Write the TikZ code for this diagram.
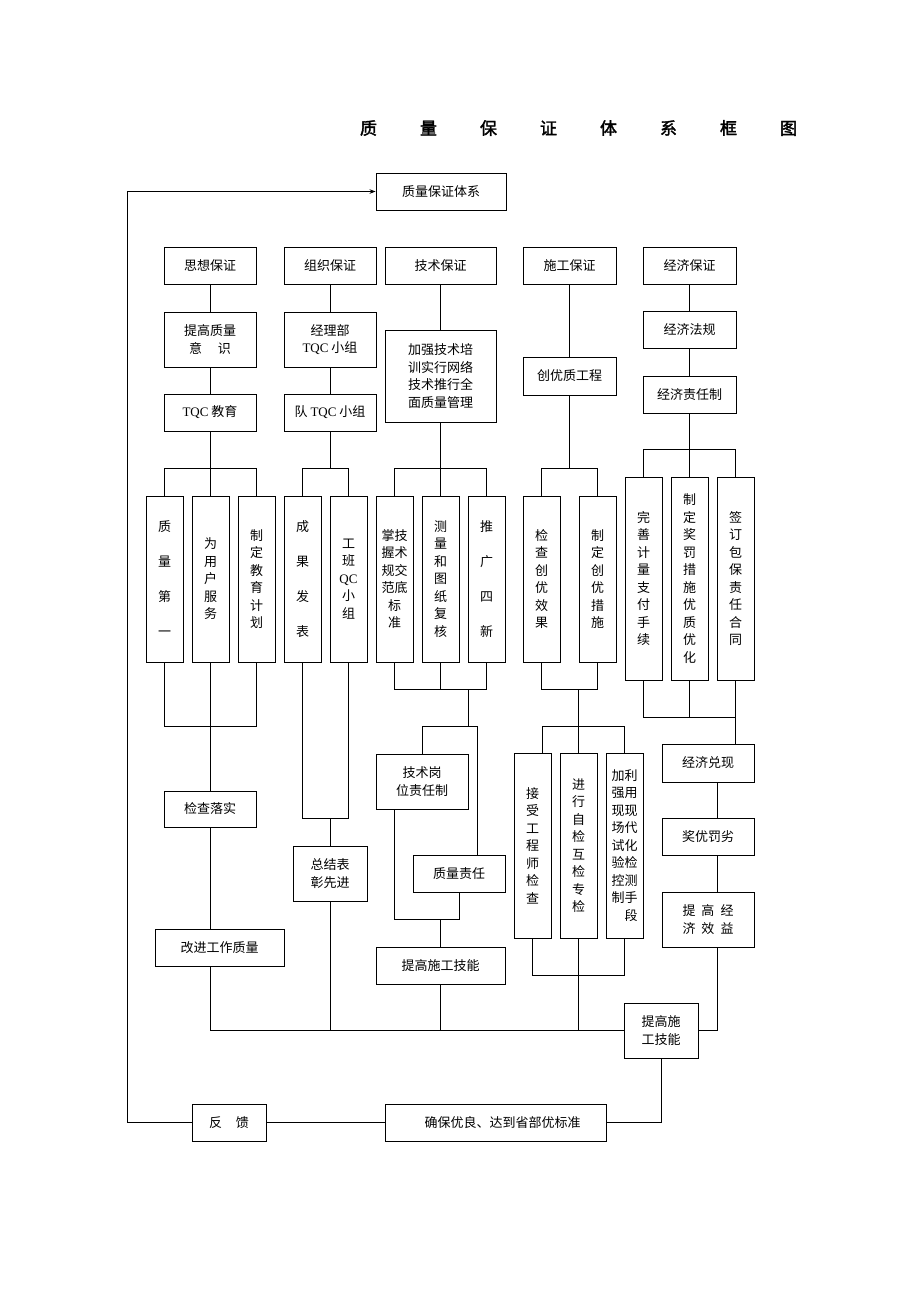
\documentclass[tikz,border=0pt]{standalone}
\usepackage{fontspec}
\setmainfont{Noto Sans CJK SC}
\newfontfamily\lat{Liberation Serif}
\newfontfamily\titlefont{Noto Sans CJK SC}[FakeBold=2]
\usetikzlibrary{arrows.meta}
\tikzset{
  bx/.style={draw, line width=0.9pt, inner sep=0pt, align=center, font=\fontsize{13}{17.5}\selectfont},
  bxw/.style={bx, font=\fontsize{13}{35}\selectfont},
  ln/.style={line width=0.8pt},
  vb/.style={bx, minimum width=37, minimum height=166},
  vt/.style={bx, minimum width=37, minimum height=203},
  vs/.style={bx, minimum width=37, minimum height=185}
}
\begin{document}
\begin{tikzpicture}[x=1pt,y=-1pt]
\useasboundingbox (0,0) rectangle (920,1302);
% title
\node (title) at (578.5,128) {\titlefont\fontsize{17}{17}\selectfont 质\hspace{43pt}量\hspace{43pt}保\hspace{43pt}证\hspace{43pt}体\hspace{43pt}系\hspace{43pt}框\hspace{43pt}图};
% top level
\node[bx,minimum width=130,minimum height=37] (top) at (441,191.5) {质量保证体系};
\node[bx,minimum width=92,minimum height=37] (sx) at (210,265.5) {思想保证};
\node[bx,minimum width=92,minimum height=37] (zz) at (330,265.5) {组织保证};
\node[bx,minimum width=111,minimum height=37] (js) at (440.5,265.5) {技术保证};
\node[bx,minimum width=93,minimum height=37] (sg) at (569.5,265.5) {施工保证};
\node[bx,minimum width=93,minimum height=37] (jj) at (689.5,265.5) {经济保证};
% second level
\node[bx,minimum width=92,minimum height=55] (tg) at (210,339.5) {提高质量\\意\hspace{16pt}识};
\node[bx,minimum width=92,minimum height=55] (jl) at (330,339.5) {经理部\\{\lat TQC} 小组};
\node[bx,minimum width=111,minimum height=92] (jq) at (440.5,376) {加强技术培\\训实行网络\\技术推行全\\面质量管理};
\node[bx,minimum width=93,minimum height=38] (cy) at (569.5,376) {创优质工程};
\node[bx,minimum width=93,minimum height=37] (jf) at (689.5,330) {经济法规};
\node[bx,minimum width=93,minimum height=37] (zr) at (689.5,394.5) {经济责任制};
\node[bx,minimum width=92,minimum height=37] (tqc) at (210,412.5) {{\lat TQC} 教育};
\node[bx,minimum width=92,minimum height=37] (dq) at (330,412.5) {队 {\lat TQC} 小组};
% vertical boxes
\node[vb,bxw] (v1) at (164.5,579) {质\\量\\第\\一};
\node[vb] (v2) at (210.5,579) {为\\用\\户\\服\\务};
\node[vb] (v3) at (256.5,579) {制\\定\\教\\育\\计\\划};
\node[vb,bxw] (v4) at (302.5,579) {成\\果\\发\\表};
\node[vb] (v5) at (348.5,579) {工\\班\\{\lat QC}\\小\\组};
\node[vb] (v6) at (394.5,579) {掌技\\握术\\规交\\范底\\标\\准};
\node[vb] (v7) at (440.5,579) {测\\量\\和\\图\\纸\\复\\核};
\node[vb,bxw] (v8) at (486.5,579) {推\\广\\四\\新};
\node[vb] (v9) at (541.5,579) {检\\查\\创\\优\\效\\果};
\node[vb] (v10) at (597.5,579) {制\\定\\创\\优\\措\\施};
\node[vt] (v11) at (643.5,578.5) {完\\善\\计\\量\\支\\付\\手\\续};
\node[vt] (v12) at (689.5,578.5) {制\\定\\奖\\罚\\措\\施\\优\\质\\优\\化};
\node[vt] (v13) at (735.5,578.5) {签\\订\\包\\保\\责\\任\\合\\同};
% lower boxes
\node[bx,minimum width=92,minimum height=36] (jcls) at (210,809) {检查落实};
\node[bx,minimum width=129,minimum height=37] (gj) at (219.5,947.5) {改进工作质量};
\node[bx,minimum width=74,minimum height=55] (zj) at (330,873.5) {总结表\\彰先进};
\node[bx,minimum width=92,minimum height=55] (jsg) at (422,781.5) {技术岗\\位责任制};
\node[bx,minimum width=92,minimum height=37] (zlzr) at (459,873.5) {质量责任};
\node[bx,minimum width=129,minimum height=37] (tgs) at (440.5,965.5) {提高施工技能};
\node[vs] (js1) at (532.5,845.5) {接\\受\\工\\程\\师\\检\\查};
\node[vs] (js2) at (578.5,845.5) {进\\行\\自\\检\\互\\检\\专\\检};
\node[vs] (js3) at (624.5,845.5) {加利\\强用\\现现\\场代\\试化\\验检\\控测\\制手\\\phantom{制}段};
\node[bx,minimum width=92,minimum height=38] (jdx) at (708,763) {经济兑现};
\node[bx,minimum width=92,minimum height=37] (jy) at (708,836.5) {奖优罚劣};
\node[bx,minimum width=92,minimum height=55] (tj) at (708,919.5) {提\hspace{6pt}高\hspace{6pt}经\\济\hspace{6pt}效\hspace{6pt}益};
\node[bx,minimum width=74,minimum height=55] (tgs2) at (661,1030.5) {提高施\\工技能};
\node[bx,minimum width=74,minimum height=37] (fk) at (229,1122.5) {反\hspace{14pt}馈};
\node[bx,minimum width=221,minimum height=37] (qb) at (495.5,1122.5) {\hspace*{14pt}确保优良、达到省部优标准};
% helper coordinates
\coordinate (b0) at (0,449);
\coordinate (b1) at (0,468);
\coordinate (b4) at (0,689);
\coordinate (b6) at (0,717);
\coordinate (b2) at (0,726);
\coordinate (b3) at (0,818);
\coordinate (b5) at (0,975);
\coordinate (lc) at (127,600);
\coordinate (c477) at (477,726);
\coordinate (c394) at (394,919);
\coordinate (c542) at (542,726);
\coordinate (c717) at (717,0);
% feedback loop
\draw[ln,-{Stealth[length=6pt,width=4.5pt]}] (fk.west) -- (fk.west -| lc) -- (lc |- top.west) -- (top.west);
% column 1
\draw[ln] (sx.south) -- (tg.north);
\draw[ln] (tg.south) -- (tqc.north);
\draw[ln] (tqc.south) -- (tqc.south |- v2.north);
\draw[ln] (v1.north) -- (v1.north |- b1) -- (v3.north |- b1) -- (v3.north);
\draw[ln] (v1.south) -- (v1.south |- b2) -- (v3.south |- b2) -- (v3.south);
\draw[ln] (v2.south) -- (v2.south |- jcls.north);
\draw[ln] (jcls.south) -- (jcls.south |- gj.north);
\draw[ln] (jcls.south |- gj.south) -- (jcls.south |- tgs2.west) -- (tgs2.west);
% column 2
\draw[ln] (zz.south) -- (jl.north);
\draw[ln] (jl.south) -- (dq.north);
\draw[ln] (dq.south) -- (dq.south |- b1);
\draw[ln] (v4.north) -- (v4.north |- b1) -- (v5.north |- b1) -- (v5.north);
\draw[ln] (v4.south) -- (v4.south |- b3) -- (v5.south |- b3) -- (v5.south);
\draw[ln] (zj.north |- b3) -- (zj.north);
\draw[ln] (zj.south) -- (zj.south |- tgs2.west);
% column 3
\draw[ln] (js.south) -- (jq.north);
\draw[ln] (jq.south) -- (jq.south |- v7.north);
\draw[ln] (v6.north) -- (v6.north |- b1) -- (v8.north |- b1) -- (v8.north);
\draw[ln] (v6.south) -- (v6.south |- b4) -- (v8.south |- b4) -- (v8.south);
\draw[ln] (v7.south) -- (v7.south |- b4);
\draw[ln] (jsg.east |- b4) -- (jsg.east |- b2);
\draw[ln] (jsg.north) -- (jsg.north |- b2) -- (c477) -- (c477 |- zlzr.north);
\draw[ln] (c394 |- jsg.south) -- (c394) -- (c394 -| zlzr.south) -- (zlzr.south);
\draw[ln] (tgs.north |- c394) -- (tgs.north);
\draw[ln] (tgs.south) -- (tgs.south |- tgs2.west);
% column 4
\draw[ln] (sg.south) -- (cy.north);
\draw[ln] (cy.south) -- (cy.south |- b1);
\draw[ln] (v9.north) -- (v9.north |- b1) -- (v10.north |- b1) -- (v10.north);
\draw[ln] (v9.south) -- (v9.south |- b4) -- (v10.south |- b4) -- (v10.south);
\draw[ln] (js2.north |- b4) -- (js2.north);
\draw[ln] (c542 |- js1.north) -- (c542) -- (c542 -| js3.north) -- (js3.north);
\draw[ln] (js1.south) -- (js1.south |- b5) -- (js3.south |- b5) -- (js3.south);
\draw[ln] (js2.south) -- (js2.south |- tgs2.west);
% column 5
\draw[ln] (jj.south) -- (jf.north);
\draw[ln] (jf.south) -- (zr.north);
\draw[ln] (zr.south) -- (v12.north);
\draw[ln] (v11.north) -- (v11.north |- b0) -- (v13.north |- b0) -- (v13.north);
\draw[ln] (v11.south) -- (v11.south |- b6) -- (v13.south |- b6) -- (v13.south);
\draw[ln] (v12.south) -- (v12.south |- b6);
\draw[ln] (v13.south |- b6) -- (v13.south |- jdx.north);
\draw[ln] (c717 |- jdx.south) -- (c717 |- jy.north);
\draw[ln] (c717 |- jy.south) -- (c717 |- tj.north);
\draw[ln] (c717 |- tj.south) -- (c717 |- tgs2.east) -- (tgs2.east);
% bottom
\draw[ln] (tgs2.south) -- (tgs2.south |- qb.east) -- (qb.east);
\draw[ln] (qb.west) -- (fk.east);
\end{tikzpicture}
\end{document}
